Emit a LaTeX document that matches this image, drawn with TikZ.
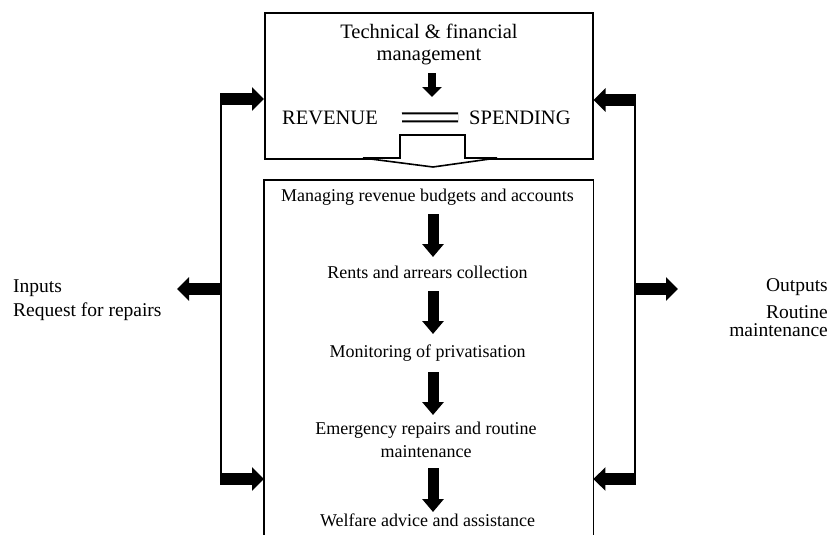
\documentclass[tikz,border=0pt]{standalone}
\usepackage{fontspec}
\setmainfont{Liberation Serif}
\usetikzlibrary{arrows.meta,calc}
\newcommand\fTop{\fontsize{20.5}{23}\selectfont}
\newcommand\fMid{\fontsize{18}{21}\selectfont}
\newcommand\fSide{\fontsize{19.5}{22}\selectfont}
\begin{document}
\begin{tikzpicture}[x=1pt,y=-1pt,
 boxline/.style={line width=1.6pt},
 txt/.style={inner sep=0pt, anchor=base},
 flowarrow/.style={line width=11pt, -{Triangle[width=21pt,length=13pt]}},
 smallarrow/.style={line width=8pt, -{Triangle[width=19pt,length=10pt]}},
 sidearrow/.style={line width=11.5pt, -{Triangle[width=23pt,length=12pt]}},
 sideline/.style={line width=1.6pt},
]
\useasboundingbox (0,0) rectangle (832,535);
% boxes
\node[draw, boxline, minimum width=328pt, minimum height=146pt, anchor=north west, inner sep=0pt] (top) at (264,12) {};
\node[minimum width=329pt, minimum height=355pt, anchor=north west, inner sep=0pt] (mid) at (264,180) {};
\draw[boxline] (mid.south west) -- (mid.north west) -- (mid.north east) -- (mid.south east);
% hollow arrow
\draw[boxline, fill=white, line join=miter] (400,158) -- (400,135) -- (465,135) -- (465,158) -- (497,158) -- (433,167) -- (363,158) -- cycle;
% top texts
\node[txt, font=\fTop] (tech1) at (429,38) {Technical \& financial};
\node[txt, font=\fTop] (tech2) at (429,60) {management};
\node[txt, font=\fTop, anchor=base east] (rev) at (378,124) {REVENUE};
\node[txt, font=\fTop, anchor=base west] (spend) at (469,124) {SPENDING};
\draw[double, line width=2pt, double distance=6pt, shorten <=24pt, shorten >=11pt] (rev.east) -- (spend.west);
\coordinate (ax) at (432,0);
\draw[smallarrow] ($(tech2.base -| ax)+(0,13)$) -- ($(rev.base -| ax)+(0,-27)$);
% middle texts
\node[txt, font=\fMid] (m1) at (427.5,201) {Managing revenue budgets and accounts};
\node[txt, font=\fMid] (m2) at (427.5,278) {Rents and arrears collection};
\node[txt, font=\fMid] (m3) at (427.5,357) {Monitoring of privatisation};
\node[txt, font=\fMid] (m4a) at (426,434) {Emergency repairs and routine};
\node[txt, font=\fMid] (m4b) at (426,457) {maintenance};
\node[txt, font=\fMid] (m5) at (427.5,526) {Welfare advice and assistance};
\coordinate (fx) at (433,0);
\draw[flowarrow] ($(m1.base -| fx)+(0,13)$) -- ($(m2.base -| fx)+(0,-21)$);
\draw[flowarrow] ($(m2.base -| fx)+(0,13)$) -- ($(m3.base -| fx)+(0,-23)$);
\draw[flowarrow] ($(m3.base -| fx)+(0,15)$) -- ($(m4a.base -| fx)+(0,-19)$);
\draw[flowarrow] ($(m4b.base -| fx)+(0,11)$) -- ($(m5.base -| fx)+(0,-14)$);
% side connectors
\coordinate (L1) at (221,99);
\coordinate (L2) at (221,479);
\coordinate (L3) at (221,289);
\coordinate (R1) at (635,100);
\coordinate (R2) at (635,479);
\coordinate (R3) at (635,289);
\coordinate (inTip) at (177,289);
\coordinate (outTip) at (678,289);
\draw[sideline] ($(L1)+(0,-5.75)$) -- ($(L2)+(0,5.75)$);
\draw[sideline] ($(R1)+(0,-5.75)$) -- ($(R2)+(0,5.75)$);
\draw[sidearrow] ($(L1)+(-0.8,0)$) -- (L1 -| top.west);
\draw[sidearrow] ($(L2)+(-0.8,0)$) -- (L2 -| mid.west);
\draw[sidearrow] ($(L3)+(0.8,0)$) -- (inTip);
\draw[sidearrow] ($(R1)+(0.8,0)$) -- (R1 -| top.east);
\draw[sidearrow] ($(R2)+(0.8,0)$) -- (R2 -| mid.east);
\draw[sidearrow] ($(R3)+(-0.8,0)$) -- (outTip);
% labels
\node[txt, font=\fSide, anchor=base west] (inp) at (13,292) {Inputs};
\node[txt, font=\fSide, anchor=base west] (req) at (13,316) {Request for repairs};
\node[txt, font=\fSide, anchor=base east] (outp) at (828,291) {Outputs};
\node[txt, font=\fSide, anchor=base east] (rout1) at (828,318) {Routine};
\node[txt, font=\fSide, anchor=base east] (rout2) at (828,336) {maintenance};
\end{tikzpicture}
\end{document}
